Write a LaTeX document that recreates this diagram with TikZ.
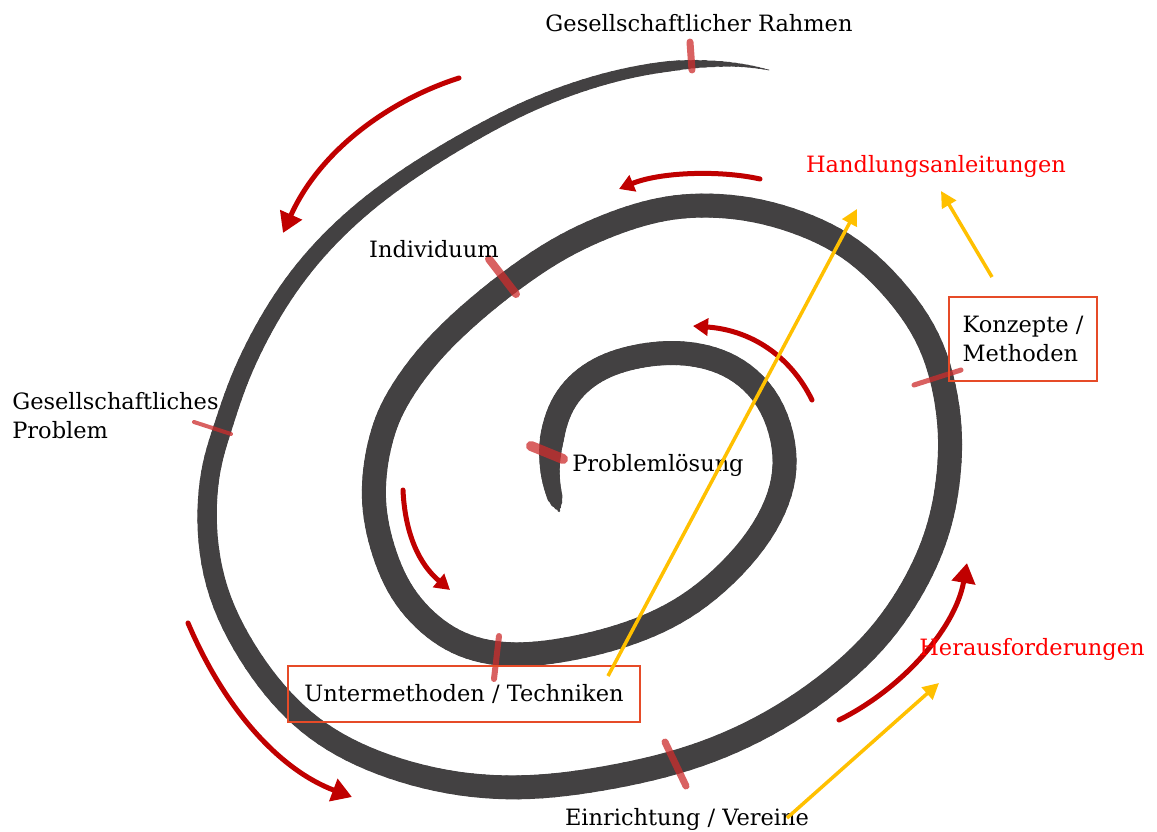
\documentclass[tikz,border=0pt]{standalone}
\usepackage{fontspec}
\setmainfont{DejaVu Serif}
\usetikzlibrary{arrows.meta}

\definecolor{spiralgray}{RGB}{67,65,66}
\definecolor{markred}{RGB}{205,45,45}
\definecolor{arrowred}{RGB}{192,0,0}
\definecolor{hintyellow}{RGB}{255,192,0}
\definecolor{boxorange}{RGB}{230,75,40}

% centre line of the spiral (px), from the inner tip outwards, and distance along it
\def\spxs{{568,559,550,549,556,572,598,630,665,700,738,772,788,781,752,700,650,600,550,505,462,428,400,383,373,374,382,395,430,487,550,600,645,690,750,810,860,910,938,951,950,943,930,907,870,810,745,676,600,530,460,390,330,285,247,216,205,209,222,238,262,291,327,370,418,468,520,575,632,690,740,769,798}}
\def\spys{{540,511,482,452,415,388,368,357,352,354,367,400,453,500,550,600,627,643,653,656,647,625,593,553,510,470,432,400,350,298,252,228,212,204,207,225,252,305,355,420,470,515,555,600,650,700,738,764,780,789,786,769,742,705,655,595,530,470,430,380,330,283,240,201,167,137,109,87,71,63,64,70,76}}
\def\spds{{0,0,30,60,98,129,162,196,231,266,306,353,409,456,514,586,643,695,746,791,835,876,918,962,1006,1046,1085,1119,1180,1257,1335,1390,1438,1484,1544,1607,1664,1737,1794,1860,1910,1956,1998,2049,2111,2189,2264,2338,2416,2487,2557,2629,2695,2753,2816,2884,2950,3010,3052,3105,3160,3215,3271,3329,3388,3446,3505,3564,3623,3682,3732,3763,3763}}

% point at #1 (0..1) on the current piece (cubic B-spline), stored as coordinate #2
\newcommand\crpt[2]{%
  \pgfmathsetmacro\crx{(\xa*(1-#1)^3+\xb*(3*#1^3-6*#1^2+4)+\xc*(-3*#1^3+3*#1^2+3*#1+1)+\xd*#1^3)/6}%
  \pgfmathsetmacro\cry{(\ya*(1-#1)^3+\yb*(3*#1^3-6*#1^2+4)+\yc*(-3*#1^3+3*#1^2+3*#1+1)+\yd*#1^3)/6}%
  \coordinate (#2) at (\crx,\cry);%
}

\begin{document}
\begin{tikzpicture}[x=0.02cm,y=-0.02cm,
  lbl/.style={font=\fontsize{12.8}{16.8}\selectfont, inner sep=0pt},
  redlbl/.style={lbl, text=red},
  framed/.style={lbl, draw=boxorange, line width=0.04cm, align=left},
  turnarrow/.style={arrowred, line width=0.1cm, line cap=round, -{Triangle[length=0.4cm,width=0.46cm]}},
  smallturn/.style={turnarrow, -{Triangle[length=0.3cm,width=0.34cm]}},
  hint/.style={hintyellow, line width=0.07cm, -{Triangle[length=0.32cm,width=0.32cm]}},
  redtick/.style={markred, opacity=0.75, line cap=round}]
\useasboundingbox (0,0) rectangle (1157,832);
\fill[white] (0,0) rectangle (1157,832);

% the spiral, thin at both ends
\foreach \j in {1,...,70}{
  \pgfmathtruncatemacro\ka{\j-1}
  \pgfmathtruncatemacro\kc{\j+1}
  \pgfmathtruncatemacro\kd{\j+2}
  \pgfmathsetmacro\xa{\spxs[\ka]}\pgfmathsetmacro\xb{\spxs[\j]}
  \pgfmathsetmacro\xc{\spxs[\kc]}\pgfmathsetmacro\xd{\spxs[\kd]}
  \pgfmathsetmacro\ya{\spys[\ka]}\pgfmathsetmacro\yb{\spys[\j]}
  \pgfmathsetmacro\yc{\spys[\kc]}\pgfmathsetmacro\yd{\spys[\kd]}
  \pgfmathsetmacro\da{\spds[\j]}\pgfmathsetmacro\db{\spds[\kc]}
  \foreach \s in {0,...,5}{
    \pgfmathsetmacro\ta{\s/6}
    \pgfmathsetmacro\tb{(\s+1)/6}
    \crpt{\ta}{ca}
    \crpt{\tb}{cb}
    \pgfmathsetmacro\dm{\da+(\ta+0.083)*(\db-\da)}
    \pgfmathsetmacro\lw{0.02*max(0.6,min(24,\dm,13+0.15*\dm,24-0.01*(\dm-2500),20-0.0143*(\dm-3000),0.1*(3768-\dm)))}
    \draw[spiralgray, line width=\lw cm, line cap=round] (ca) -- (cb);
  }
}

% red marks on the spiral
\draw[redtick, line width=0.14cm] (690,42) -- (692,70);
\draw[redtick, line width=0.16cm] (489,259) -- (516,294);
\draw[redtick, line width=0.08cm] (194,422) -- (231,434);
\draw[redtick, line width=0.1cm] (914,385) -- (961,370);
\draw[redtick, line width=0.2cm] (531,446) -- (563,459);
\draw[redtick, line width=0.12cm] (499,636) -- (494,679);
\draw[redtick, line width=0.14cm] (665,742) -- (686,786);

% red arrows along the spiral
\draw[turnarrow] (459,78) .. controls (390,100) and (320,150) .. (283,233);
\draw[smallturn] (760,179) .. controls (720,170) and (660,172) .. (619,189);
\draw[smallturn] (812,400) .. controls (790,355) and (750,330) .. (693,326);
\draw[smallturn] (403,490) .. controls (405,535) and (420,565) .. (450,590);
\draw[turnarrow] (188,623) .. controls (225,710) and (280,770) .. (352,797);
\draw[turnarrow] (839,720) .. controls (900,690) and (955,630) .. (967,563);

% labels
\node[lbl, anchor=base] (rahmen) at (699,31) {Gesellschaftlicher Rahmen};
\node[redlbl, anchor=base] (handl) at (936,172) {Handlungsanleitungen};
\node[lbl, anchor=base] (indiv) at (434,257) {Individuum};
\node[framed, minimum width=2.96cm, minimum height=1.68cm] (konz) at (1023,339) {Konzepte /\\Methoden};
\node[lbl, align=left, anchor=north west] (gesprob) at (12,392) {Gesellschaftliches\\Problem};
\node[lbl, anchor=base] (loesung) at (658,471) {Problemlösung};
\node[framed, minimum width=7.04cm, minimum height=1.12cm] (unter) at (464,694) {Untermethoden / Techniken};
\node[redlbl, anchor=base] (heraus) at (1032,655) {Herausforderungen};
\node[lbl, anchor=base] (einr) at (687,825) {Einrichtung / Vereine};

% yellow hints
\coordinate (y1s) at (608,676);
\coordinate (y1e) at (857,209);
\coordinate (y2s) at (992,277);
\coordinate (y2e) at (941,191);
\coordinate (y3s) at (787,818);
\coordinate (y3e) at (939,683);
\draw[hint] (y1s) -- (y1e);
\draw[hint] (y2s) -- (y2e);
\draw[hint] (y3s) -- (y3e);
\end{tikzpicture}
\end{document}
